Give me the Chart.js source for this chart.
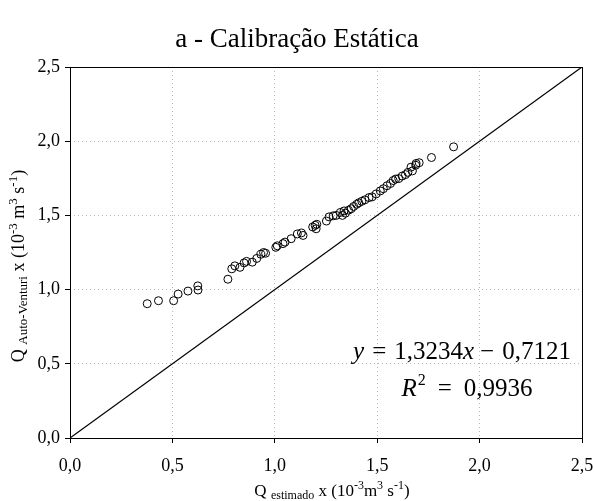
<!DOCTYPE html>
<html>
<head>
<meta charset="utf-8">
<script src="https://cdn.jsdelivr.net/npm/chart.js@4/dist/chart.umd.min.js"></script>
<style>
html,body{margin:0;padding:0;background:#fff;}
#wrap{width:594px;height:501px;position:relative;}
</style>
</head>
<body>
<div id="wrap"><canvas id="c" width="594" height="501"></canvas></div>
<script>
const chartTitle = "a - Calibração Estática";
const axisTicks = [0, 0.5, 1.0, 1.5, 2.0, 2.5];
const qEstimado = [0.377,0.432,0.506,0.528,0.576,0.624,0.625,0.771,0.790,0.805,0.830,0.850,0.862,0.890,0.912,0.932,0.945,0.955,1.005,1.012,1.040,1.050,1.080,1.110,1.130,1.138,1.185,1.197,1.202,1.205,1.252,1.265,1.285,1.300,1.320,1.330,1.338,1.345,1.360,1.373,1.385,1.400,1.410,1.425,1.440,1.460,1.475,1.495,1.515,1.530,1.548,1.565,1.578,1.590,1.605,1.622,1.638,1.650,1.672,1.665,1.688,1.705,1.690,1.765,1.873];
const qAutoVenturi = [0.905,0.925,0.925,0.970,0.990,1.025,0.997,1.070,1.140,1.160,1.150,1.180,1.190,1.185,1.210,1.238,1.250,1.245,1.285,1.295,1.310,1.320,1.343,1.375,1.382,1.365,1.422,1.433,1.410,1.440,1.462,1.490,1.497,1.500,1.520,1.500,1.530,1.515,1.535,1.545,1.560,1.575,1.585,1.595,1.605,1.620,1.625,1.645,1.665,1.680,1.700,1.715,1.735,1.745,1.748,1.765,1.775,1.790,1.800,1.825,1.838,1.855,1.850,1.890,1.962];
const lineX = [0, 2.5];
const lineY = [0, 2.5];

const serif = "'Liberation Serif','DejaVu Serif',serif";

function drawSegs(ctx, segs, cx, cy) {
  let total = 0;
  segs.forEach(s => {
    ctx.font = (s.italic ? 'italic ' : '') + s.size + 'px ' + serif;
    s.w = ctx.measureText(s.t).width + (s.gap || 0);
    total += s.w;
  });
  let x = cx - total / 2;
  ctx.textBaseline = 'alphabetic';
  ctx.textAlign = 'left';
  segs.forEach(s => {
    ctx.font = (s.italic ? 'italic ' : '') + s.size + 'px ' + serif;
    ctx.fillText(s.t, x + (s.gap || 0), cy + (s.dy || 0));
    x += s.w;
  });
}

const textPlugin = {
  id: 'textPlugin',
  afterDraw(chart) {
    const ctx = chart.ctx;
    const a = chart.chartArea;
    ctx.save();
    ctx.strokeStyle = '#000';
    ctx.lineWidth = 1;
    ctx.setLineDash([]);
    ctx.strokeRect(Math.round(a.left) + 0.5, Math.round(a.top) + 0.5, Math.round(a.right - a.left), Math.round(a.bottom - a.top));
    ctx.fillStyle = '#000';
    // title
    drawSegs(ctx, [{t: chartTitle, size: 27}], 297, 47);
    // x axis title
    drawSegs(ctx, [
      {t: 'Q ', size: 17},
      {t: 'estimado', size: 12, dy: 3},
      {t: ' x (10', size: 17},
      {t: '-3', size: 12, dy: -7},
      {t: 'm', size: 17},
      {t: '3', size: 12, dy: -7},
      {t: ' s', size: 17},
      {t: '-1', size: 12, dy: -7},
      {t: ')', size: 17}
    ], 332, 496);
    // y axis title
    ctx.save();
    ctx.translate(24, 266);
    ctx.rotate(-Math.PI / 2);
    drawSegs(ctx, [
      {t: 'Q ', size: 18},
      {t: 'Auto-Venturi', size: 13, dy: 3},
      {t: ' x (10', size: 18},
      {t: '-3', size: 13, dy: -7},
      {t: ' m', size: 18},
      {t: '3', size: 13, dy: -7},
      {t: ' s', size: 18},
      {t: '-1', size: 13, dy: -7},
      {t: ')', size: 18}
    ], 0, 0);
    ctx.restore();
    // equation
    drawSegs(ctx, [
      {t: 'y', size: 25, italic: true},
      {t: '=', size: 25, gap: 8},
      {t: '1,3234', size: 25, gap: 8},
      {t: 'x', size: 25, italic: true},
      {t: '\u2212', size: 25, gap: 6},
      {t: '0,7121', size: 25, gap: 8}
    ], 462, 359);
    drawSegs(ctx, [
      {t: 'R', size: 25, italic: true},
      {t: '2', size: 16, dy: -11, gap: 1},
      {t: '=', size: 25, gap: 12},
      {t: '0,9936', size: 25, gap: 12}
    ], 467, 396);
    ctx.restore();
  }
};

const fmt = v => Number(v).toFixed(1).replace('.', ',');

new Chart(document.getElementById('c'), {
  type: 'scatter',
  data: {
    datasets: [
      {
        data: qEstimado.map((x, i) => ({x: x, y: qAutoVenturi[i]})),
        pointStyle: 'circle',
        pointRadius: 4,
        pointBorderWidth: 1,
        pointBorderColor: '#000',
        pointBackgroundColor: 'rgba(0,0,0,0)',
        showLine: false
      },
      {
        data: lineX.map((x, i) => ({x: x, y: lineY[i]})),
        showLine: true,
        borderColor: '#000',
        borderWidth: 1.2,
        pointRadius: 0,
        fill: false
      }
    ]
  },
  options: {
    responsive: false,
    animation: false,
    devicePixelRatio: 1,
    layout: {padding: {top: 67, right: 12, left: 0, bottom: 0}},
    plugins: {legend: {display: false}, tooltip: {enabled: false}, title: {display: false}},
    scales: {
      x: {
        type: 'linear', min: 0, max: 2.5,
        afterBuildTicks: s => { s.ticks = axisTicks.map(v => ({value: v})); },
        afterFit: s => { s.height = 63; s.paddingRight = 0; s.paddingLeft = 0; },
        grid: {color: '#b8b8b8', lineWidth: 1, tickColor: '#000', tickLength: 5, tickBorderDash: [], drawTicks: true},
        border: {display: false, dash: [1, 3]},
        ticks: {color: '#000', font: {family: serif, size: 18}, padding: 12, callback: v => fmt(v), maxRotation: 0}
      },
      y: {
        type: 'linear', min: 0, max: 2.5,
        afterBuildTicks: s => { s.ticks = axisTicks.map(v => ({value: v})); },
        afterFit: s => { s.width = 70; s.paddingTop = 0; s.paddingBottom = 0; },
        grid: {color: '#b8b8b8', lineWidth: 1, tickColor: '#000', tickLength: 5, tickBorderDash: [], drawTicks: true},
        border: {display: false, dash: [1, 3]},
        ticks: {color: '#000', font: {family: serif, size: 18}, padding: 5, callback: v => fmt(v)}
      }
    }
  },
  plugins: [textPlugin]
});
</script>
</body>
</html>
